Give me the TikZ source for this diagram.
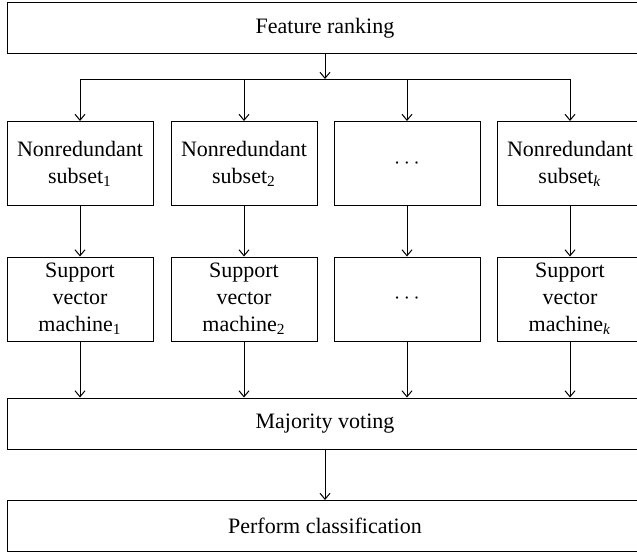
\documentclass[tikz,border=0pt]{standalone}
\usepackage{fontspec}
\setmainfont{Liberation Serif}
\usetikzlibrary{arrows.meta}

\begin{document}
\begin{tikzpicture}[x=0.5pt,y=-0.5pt,>={Straight Barb[length=3pt,width=5pt]},line width=0.5pt,
    box/.style={draw,align=center,inner sep=0pt,font=\fontsize{11}{13.5}\selectfont},
    wide/.style={box,minimum width=318pt,minimum height=25.5pt},
    cell/.style={box,minimum width=73pt,minimum height=42pt}]

    \useasboundingbox (0,0) rectangle (637,554);

    \node[wide] (rank) at (325,28) {Feature ranking};

    \node[cell] (sub1) at (80,163.5) {Nonredundant\\subset\textsubscript{1}};
    \node[cell] (sub2) at (244,163.5) {Nonredundant\\subset\textsubscript{2}};
    \node[cell] (subd) at (407,163.5) {$\cdots$};
    \node[cell] (subk) at (570,163.5) {Nonredundant\\subset\textsubscript{\textit{k}}};

    \node[cell] (svm1) at (80,299) {Support\\vector\\machine\textsubscript{1}};
    \node[cell] (svm2) at (244,299) {Support\\vector\\machine\textsubscript{2}};
    \node[cell] (svmd) at (407,299) {$\cdots$};
    \node[cell] (svmk) at (570,299) {Support\\vector\\machine\textsubscript{\textit{k}}};

    \node[wide] (vote) at (325,423.5) {Majority voting};
    \node[wide] (perf) at (325,526) {Perform classification};

    \coordinate (fork) at (325,79);
    \draw (sub1 |- fork) -- (subk |- fork);
    \draw[->] (rank) -- (fork);

    \draw[->] (sub1 |- fork) -- (sub1);
    \draw[->] (sub2 |- fork) -- (sub2);
    \draw[->] (subd |- fork) -- (subd);
    \draw[->] (subk |- fork) -- (subk);

    \draw[->] (sub1) -- (svm1);
    \draw[->] (sub2) -- (svm2);
    \draw[->] (subd) -- (svmd);
    \draw[->] (subk) -- (svmk);

    \draw[->] (svm1) -- (svm1 |- vote.north);
    \draw[->] (svm2) -- (svm2 |- vote.north);
    \draw[->] (svmd) -- (svmd |- vote.north);
    \draw[->] (svmk) -- (svmk |- vote.north);

    \draw[->] (vote) -- (perf);

\end{tikzpicture}
\end{document}
